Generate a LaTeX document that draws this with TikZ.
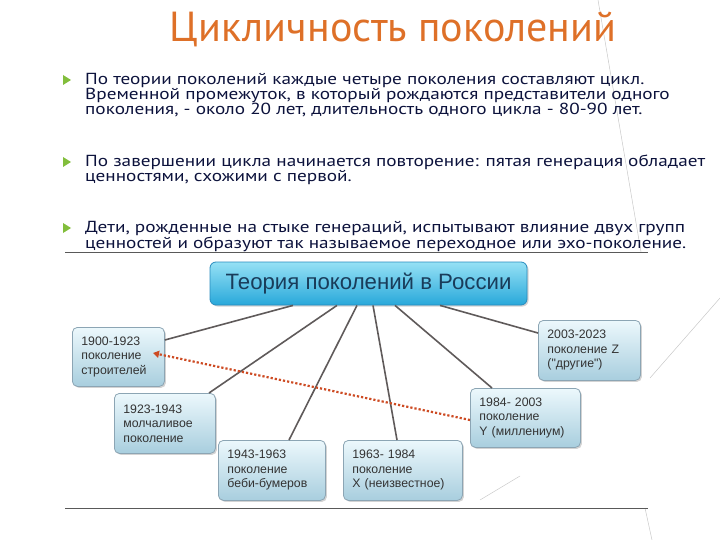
\documentclass[tikz,border=0pt]{standalone}
\usepackage{fontspec}
\setmainfont{PT Sans}
\newfontfamily\bodyfont[FakeStretch=1.2]{PT Sans}
\newfontfamily\boxfont{Liberation Sans}
\usetikzlibrary{arrows.meta,shadows}
\definecolor{titleorange}{RGB}{222,112,40}
\definecolor{bodytext}{RGB}{12,18,60}
\definecolor{bulletgreen}{RGB}{130,190,60}
\definecolor{boxtop}{RGB}{236,248,252}
\definecolor{boxbot}{RGB}{168,206,222}
\definecolor{boxline}{RGB}{140,165,180}
\definecolor{maintop}{RGB}{150,225,245}
\definecolor{mainbot}{RGB}{40,168,218}
\definecolor{mainline}{RGB}{40,140,190}
\definecolor{maintext}{RGB}{25,60,90}
\definecolor{linkgray}{RGB}{95,90,90}
\definecolor{dotred}{RGB}{205,75,35}
\definecolor{faint}{RGB}{200,200,200}
\tikzset{
  genbox/.style={draw=boxline, line width=0.8pt, rounded corners=5pt,
    top color=boxtop, bottom color=boxbot,
    drop shadow={shadow xshift=1.5pt, shadow yshift=-1.5pt, opacity=0.35},
    font=\boxfont\fontsize{12.3}{14.5}\selectfont, text=black!80,
    align=left, inner xsep=9pt, inner ysep=0pt, anchor=north west},
  mainbox/.style={draw=mainline, line width=0.8pt, rounded corners=6pt,
    top color=maintop, bottom color=mainbot,
    drop shadow={shadow xshift=1.5pt, shadow yshift=-1.5pt, opacity=0.35},
    font=\boxfont\fontsize{22.2}{26}\selectfont, text=maintext, inner sep=0pt},
  link/.style={draw=linkgray, line width=1.6pt},
  bodyline/.style={anchor=base west, inner sep=0pt, text=bodytext,
    font=\bodyfont\fontsize{16}{15}\selectfont},
  bullet/.style={fill=bulletgreen, draw=none},
  rule/.style={draw=black!65, line width=0.7pt},
  deco/.style={draw=faint, line width=0.5pt}
}
\begin{document}
\begin{tikzpicture}[x=1pt,y=-1pt]
\useasboundingbox (0,0) rectangle (720,540);
% decorative faint lines
\draw[deco] (598,0) -- (641,252);
\draw[deco] (650,378) -- (720,298);
\draw[deco] (645,508) -- (652,540);
\draw[deco] (520,476) -- (480,500);
% title
\node[text=titleorange, font=\fontsize{42}{46}\selectfont, anchor=base] (title) at (393,42) {Цикличность поколений};
% bullets
\foreach \yy/\nm in {80/b1,162/b2,228/b3}{
  \fill[bullet] (63,\yy-5) -- (71,\yy) -- (63,\yy+5) -- cycle;
}
\node[bodyline] (t1) at (85,85) {По теории поколений каждые четыре поколения составляют цикл.};
\node[bodyline] (t2) at (85,100) {Временной промежуток, в который рождаются представители одного};
\node[bodyline] (t3) at (85,115) {поколения, - около 20 лет, длительность одного цикла - 80-90 лет.};
\node[bodyline] (t4) at (85,167) {По завершении цикла начинается повторение: пятая генерация обладает};
\node[bodyline] (t5) at (85,182) {ценностями, схожими с первой.};
\node[bodyline] (t6) at (85,233) {Дети, рожденные на стыке генераций, испытывают влияние двух групп};
\node[bodyline] (t7) at (85,248) {ценностей и образуют так называемое переходное или эхо-поколение.};
% rules
\draw[rule] (65,252) -- (648,252);
\draw[rule] (65,508) -- (648,508);
% main box
\node[mainbox, minimum width=317pt, minimum height=43pt] (main) at (368.5,283.5) {Теория поколений в России};
% generation boxes
\node[genbox, minimum width=92pt, minimum height=59pt, text width=74pt] (g1) at (72,327) {1900-1923\\поколение\\строителей};
\node[genbox, minimum width=101pt, minimum height=60pt, text width=83pt] (g2) at (114,393) {1923-1943\\молчаливое\\поколение};
\node[genbox, minimum width=107pt, minimum height=60pt, text width=89pt] (g3) at (218,440) {1943-1963\\поколение\\беби-бумеров};
\node[genbox, minimum width=119pt, minimum height=60pt, text width=101pt] (g4) at (343,440) {1963- 1984\\поколение\\X (неизвестное)};
\node[genbox, minimum width=110pt, minimum height=59pt, text width=92pt] (g5) at (470,388) {1984- 2003\\поколение\\Y (миллениум)};
\node[genbox, minimum width=102pt, minimum height=60pt, text width=84pt] (g6) at (538,320) {2003-2023\\поколение Z\\("другие")};
% links
\draw[link] (main.south -| 293,0) -- (g1.east |- 0,340);
\draw[link] (main.south -| 337,0) -- (g2.north -| 209,0);
\draw[link] (main.south -| 357,0) -- (g3.north -| 289,0);
\draw[link] (main.south -| 373,0) -- (g4.north -| 397,0);
\draw[link] (main.south -| 395,0) -- (g5.north -| 492,0);
\draw[link] (main.south -| 440,0) -- (g6.west |- 0,333);
% dotted arrow
\coordinate (arrend) at (153,353);
\draw[dotred, line width=2.2pt, dotted, -{Triangle[length=6pt,width=7pt]}] (g5.west |- 0,420) -- (arrend);
\end{tikzpicture}
\end{document}
